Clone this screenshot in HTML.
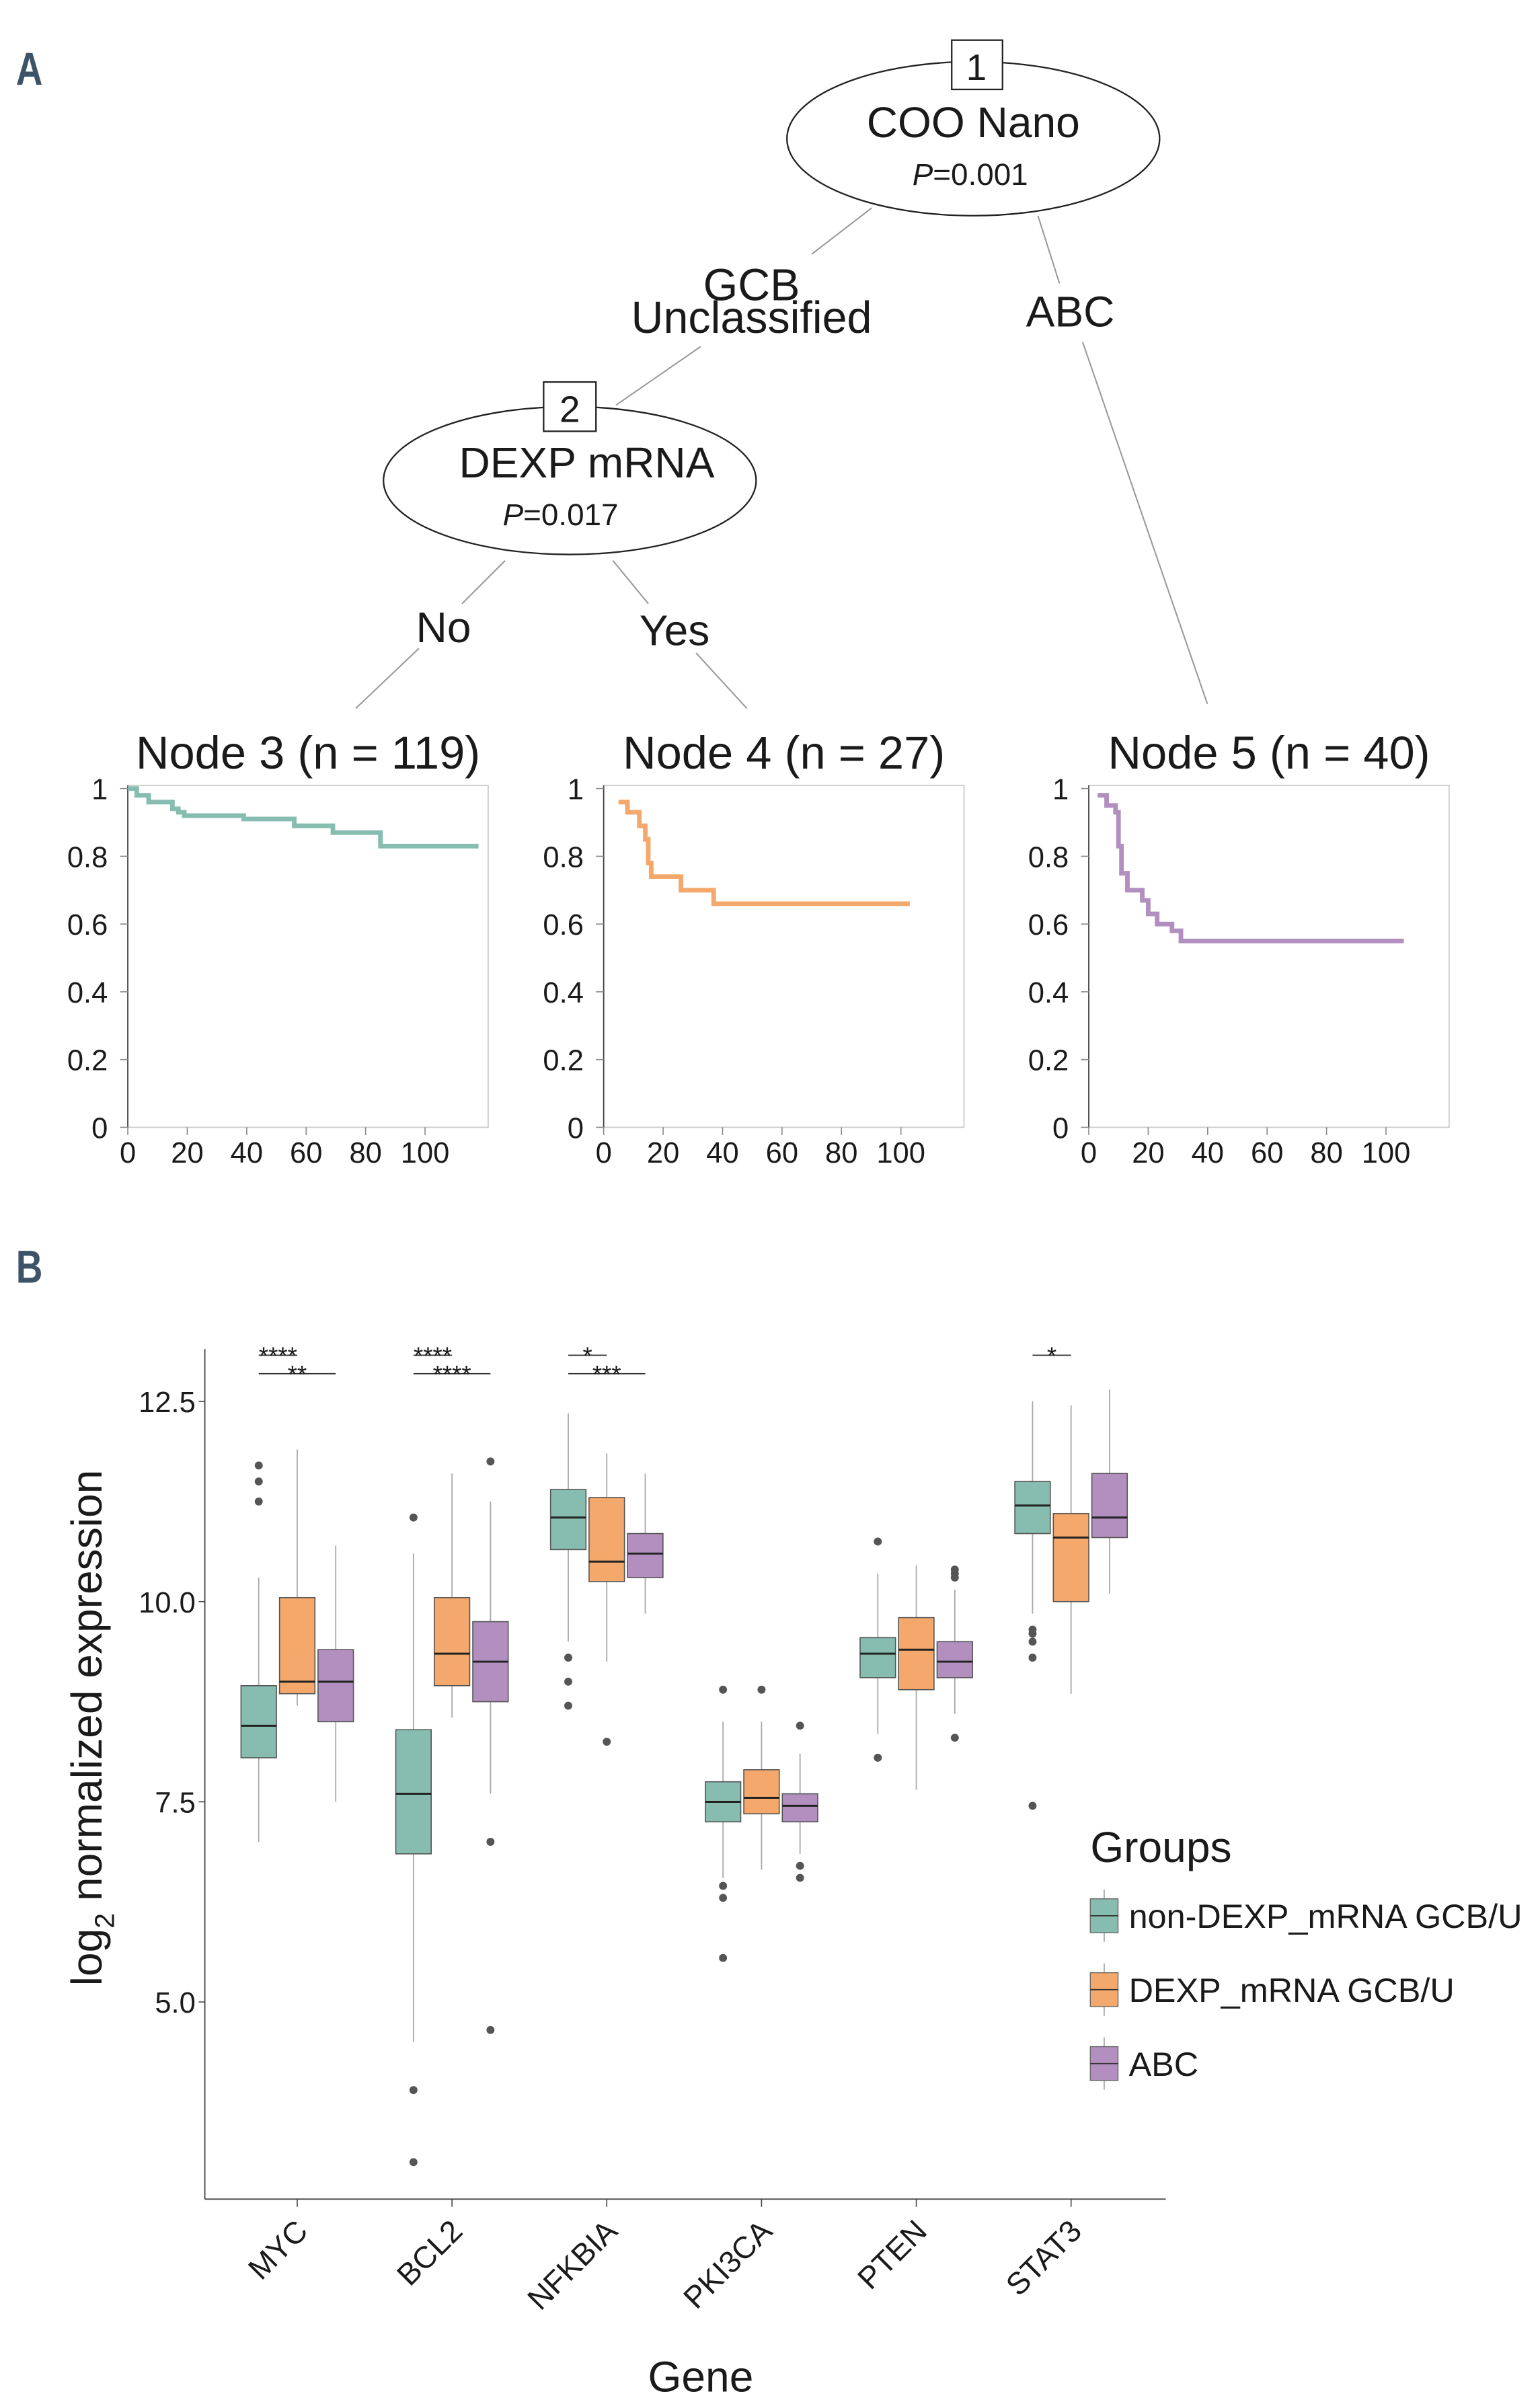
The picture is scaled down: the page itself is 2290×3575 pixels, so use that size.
<!DOCTYPE html>
<html><head><meta charset="utf-8"><style>
html,body{margin:0;padding:0;background:#fff;}
svg{display:block;}
text{font-family:"Liberation Sans",sans-serif;fill:#1a1a1a;}
</style></head><body>
<svg id="fig" width="2290" height="3575" viewBox="0 0 1000 1561" xmlns="http://www.w3.org/2000/svg">
<g>
<text x="13" y="55" font-size="30" font-weight="bold" style="fill:#3c5368" transform="scale(0.8,1)">A</text>
<g stroke="#999" stroke-width="0.9">
<line x1="566" y1="135" x2="527" y2="165"/>
<line x1="455" y1="225" x2="400" y2="263"/>
<line x1="674" y1="140" x2="688" y2="184"/>
<line x1="703" y1="222" x2="784" y2="457"/>
<line x1="328" y1="364" x2="300" y2="392"/>
<line x1="272" y1="421" x2="231" y2="460"/>
<line x1="398" y1="364" x2="421" y2="392"/>
<line x1="452" y1="424" x2="485" y2="460"/>
</g>
<g>
<ellipse cx="632" cy="90" rx="121" ry="50" fill="#fff" stroke="#222" stroke-width="1"/>
<rect x="618" y="26" width="33" height="32" fill="#fff" stroke="#222" stroke-width="1"/>
<text x="634" y="52" font-size="24" text-anchor="middle">1</text>
<text x="632" y="89" font-size="28" text-anchor="middle">COO Nano</text>
<text x="630" y="120" font-size="20" text-anchor="middle"><tspan font-style="italic">P</tspan>=0.001</text>
</g>
<g>
<ellipse cx="370" cy="312" rx="121" ry="48" fill="#fff" stroke="#222" stroke-width="1"/>
<rect x="353" y="248" width="34" height="32" fill="#fff" stroke="#222" stroke-width="1"/>
<text x="370" y="274" font-size="24" text-anchor="middle">2</text>
<text x="381" y="310" font-size="28" text-anchor="middle">DEXP mRNA</text>
<text x="364" y="341" font-size="20" text-anchor="middle"><tspan font-style="italic">P</tspan>=0.017</text>
</g>
<text x="488" y="195" font-size="29" text-anchor="middle">GCB</text>
<text x="488" y="216" font-size="29" text-anchor="middle">Unclassified</text>
<text x="695" y="212" font-size="28" text-anchor="middle">ABC</text>
<text x="288" y="417" font-size="28" text-anchor="middle">No</text>
<text x="438" y="419" font-size="28" text-anchor="middle">Yes</text>
<g id="km"></g>
</g>
<g>
<text x="13" y="833" font-size="30" font-weight="bold" style="fill:#3c5368" transform="scale(0.8,1)">B</text>
<g id="box"></g>
</g>
</svg>
<script>
// ---------- KM data ----------
const kmTitles = ["Node 3 (n = 119)", "Node 4 (n = 27)", "Node 5 (n = 40)"];
const km3Times = [0, 3, 7, 15, 17, 19, 39, 56, 69, 85, 118];
const km3Surv  = [1.0, 0.98, 0.96, 0.94, 0.93, 0.92, 0.91, 0.89, 0.87, 0.83, 0.83];
const km4Times = [5, 8, 12, 14, 15, 16, 26, 37, 103];
const km4Surv  = [0.96, 0.93, 0.89, 0.85, 0.78, 0.74, 0.70, 0.66, 0.66];
const km5Times = [3, 6, 9, 10, 11, 13, 18, 20, 23, 28, 31, 106];
const km5Surv  = [0.98, 0.95, 0.93, 0.83, 0.75, 0.70, 0.67, 0.63, 0.60, 0.58, 0.55, 0.55];
const kmXTicks = [0, 20, 40, 60, 80, 100];
const kmYTicks = [0, 0.2, 0.4, 0.6, 0.8, 1];
const kmYLabels = ["0", "0.2", "0.4", "0.6", "0.8", "1"];

// ---------- Boxplot data ----------
const genes = ["MYC", "BCL2", "NFKBIA", "PKI3CA", "PTEN", "STAT3"];
const groups = ["non-DEXP_mRNA GCB/U", "DEXP_mRNA GCB/U", "ABC"];
const groupColors = ["#86bdb0", "#f5a86b", "#b28fbf"];
// per gene, per group: [low whisker, q1, median, q3, high whisker]
const statsTeal = [[7.0,8.05,8.45,8.95,10.3],[4.5,6.85,7.6,8.4,10.6],[9.5,10.65,11.05,11.4,12.35],[6.55,7.25,7.5,7.75,8.5],[8.35,9.05,9.35,9.55,10.35],[9.85,10.85,11.2,11.5,12.5]];
const statsOrange = [[8.7,8.85,9.0,10.05,11.9],[8.55,8.95,9.35,10.05,11.6],[9.25,10.25,10.5,11.3,11.85],[6.65,7.35,7.55,7.9,8.5],[7.65,8.9,9.4,9.8,10.45],[8.85,10.0,10.8,11.1,12.45]];
const statsPurple = [[7.5,8.5,9.0,9.4,10.7],[7.6,8.75,9.25,9.75,11.25],[9.85,10.3,10.6,10.85,11.6],[6.85,7.25,7.45,7.6,8.1],[8.6,9.05,9.25,9.5,10.15],[10.1,10.8,11.05,11.6,12.65]];
const outTeal = [[11.7,11.5,11.25],[11.05,3.9,3.0],[9.3,9.0,8.7],[8.9,6.45,6.3,5.55],[10.75,8.05],[9.65,9.6,9.5,9.3,7.45]];
const outOrange = [[],[],[8.25],[8.9],[],[]];
const outPurple = [[],[11.75,7.0,4.65],[],[8.45,6.7,6.55],[10.4,10.35,10.3,8.3],[]];
const yTicks = [5.0, 7.5, 10.0, 12.5];
const yTickLabels = ["5.0", "7.5", "10.0", "12.5"];
const sigGene = [0, 0, 1, 1, 2, 2, 5];
const sigFrom = [0, 0, 0, 0, 0, 0, 0];
const sigTo   = [1, 2, 1, 2, 1, 2, 1];
const sigLabel = ["****", "**", "****", "****", "*", "***", "*"];
const sigLevel = [0, 1, 0, 1, 0, 1, 0];

const NS = "http://www.w3.org/2000/svg";
function mk(parent, tag, attrs, txt) {
  const e = document.createElementNS(NS, tag);
  for (const k in attrs) e.setAttribute(k, attrs[k]);
  if (txt !== undefined) e.textContent = txt;
  parent.appendChild(e);
  return e;
}

// ---------- KM panels ----------
const kmG = document.getElementById("km");
const kmLefts = [83, 392, 707];
const kmColors = ["#86bdb0", "#f5a86b", "#b28fbf"];
const kmT = [km3Times, km4Times, km5Times];
const kmS = [km3Surv, km4Surv, km5Surv];
for (let p = 0; p < 3; p++) {
  const L = kmLefts[p], W = 234, top = 510, bot = 732;
  const xs = t => L + t * 1.93;
  const ys = s => bot - s * (bot - top - 2);
  const g = mk(kmG, "g", {});
  
  
  const t = mk(g, "text", {x: L + W / 2, y: 499, "font-size": 30, "text-anchor": "middle"}, kmTitles[p]);
  
  
  mk(g, "rect", {x: L, y: top, width: W, height: bot - top, fill: "none", stroke: "#ccc", "stroke-width": 0.8});
  mk(g, "line", {x1: L, y1: top, x2: L, y2: bot, stroke: "#444", "stroke-width": 0.8});
  kmYTicks.forEach((v, i) => {
    mk(g, "line", {x1: L - 5, y1: ys(v), x2: L, y2: ys(v), stroke: "#888", "stroke-width": 0.7});
    const tl = mk(g, "text", {x: L - 13, y: ys(v) + 7, "font-size": 19, "text-anchor": "end"}, kmYLabels[i]);
    
    
  });
  kmXTicks.forEach(v => {
    mk(g, "line", {x1: xs(v), y1: bot, x2: xs(v), y2: bot + 5, stroke: "#888", "stroke-width": 0.7});
    const tl = mk(g, "text", {x: xs(v), y: bot + 23, "font-size": 19, "text-anchor": "middle"}, String(v));
    
    
  });
  const T = kmT[p], S = kmS[p];
  let d = "M" + xs(T[0]) + "," + ys(S[0]);
  for (let i = 1; i < T.length; i++) {
    d += " H" + xs(T[i]) + " V" + ys(S[i]);
  }
  const path = mk(g, "path", {d: d, fill: "none", stroke: kmColors[p], "stroke-width": 3});
  
  
}

// ---------- Boxplot ----------
const bg = document.getElementById("box");
const yv = v => 1040 - (v - 10) * 52;
const xGene = i => 193 + i * 100.5;
const offs = [-25, 0, 25];
const bw = 23;
mk(bg, "line", {x1: 133, y1: 876, x2: 133, y2: 1428, stroke: "#444", "stroke-width": 0.8});
mk(bg, "line", {x1: 133, y1: 1428, x2: 757, y2: 1428, stroke: "#444", "stroke-width": 0.8});
yTicks.forEach((v, i) => {
  mk(bg, "line", {x1: 129, y1: yv(v), x2: 133, y2: yv(v), stroke: "#444", "stroke-width": 0.7});
  const tl = mk(bg, "text", {x: 127, y: yv(v) + 7, "font-size": 19, "text-anchor": "end"}, yTickLabels[i]);
  
  
});
const allStats = [statsTeal, statsOrange, statsPurple];
const allOut = [outTeal, outOrange, outPurple];
genes.forEach((gname, gi) => {
  const cx = xGene(gi);
  mk(bg, "line", {x1: cx, y1: 1428, x2: cx, y2: 1433, stroke: "#444", "stroke-width": 0.7});
  const tl = mk(bg, "text", {x: cx + 8, y: 1450, "font-size": 20, "text-anchor": "end", transform: "rotate(-45 " + (cx + 8) + " 1450)"}, gname);
  
  
  for (let k = 0; k < 3; k++) {
    const s = allStats[k][gi], x = cx + offs[k];
    const b = mk(bg, "g", {});
    
    
    mk(b, "line", {x1: x, y1: yv(s[0]), x2: x, y2: yv(s[4]), stroke: "#aaa", "stroke-width": 0.8});
    mk(b, "rect", {x: x - bw / 2, y: yv(s[3]), width: bw, height: yv(s[1]) - yv(s[3]), fill: groupColors[k], stroke: "#555", "stroke-width": 0.7});
    mk(b, "line", {x1: x - bw / 2, y1: yv(s[2]), x2: x + bw / 2, y2: yv(s[2]), stroke: "#222", "stroke-width": 1.3});
    allOut[k][gi].forEach(o => {
      const c = mk(b, "circle", {cx: x, cy: yv(o), r: 2.6, fill: "#555"});
      
      
    });
  }
});
for (let i = 0; i < sigGene.length; i++) {
  const cx = xGene(sigGene[i]);
  const x1 = cx + offs[sigFrom[i]], x2 = cx + offs[sigTo[i]];
  const y = sigLevel[i] ? 892 : 880;
  const g = mk(bg, "g", {});
  
  
  mk(g, "line", {x1: x1, y1: y, x2: x2, y2: y, stroke: "#333", "stroke-width": 0.8});
  mk(g, "text", {x: (x1 + x2) / 2, y: y + 6, "font-size": 16, "text-anchor": "middle"}, sigLabel[i]);
}
const yt = mk(bg, "text", {x: 0, y: 0, "font-size": 28, "text-anchor": "middle", transform: "translate(66,1122) rotate(-90)"});


yt.innerHTML = 'log<tspan font-size="18" dy="8">2</tspan><tspan dy="-8"> normalized expression</tspan>';
const xt = mk(bg, "text", {x: 455, y: 1553, "font-size": 28, "text-anchor": "middle"}, "Gene");


const lt = mk(bg, "text", {x: 708, y: 1209, "font-size": 28}, "Groups");


groups.forEach((gname, k) => {
  const y = 1244 + k * 48;
  const e = mk(bg, "g", {});
  
  
  mk(e, "line", {x1: 717, y1: y - 17, x2: 717, y2: y + 17, stroke: "#aaa", "stroke-width": 0.8});
  mk(e, "rect", {x: 708, y: y - 11, width: 18, height: 22, fill: groupColors[k], stroke: "#666", "stroke-width": 0.6});
  mk(e, "line", {x1: 708, y1: y, x2: 726, y2: y, stroke: "#333", "stroke-width": 0.8});
  mk(e, "text", {x: 733, y: y + 8, "font-size": 22}, gname);
});
</script>
</body></html>
